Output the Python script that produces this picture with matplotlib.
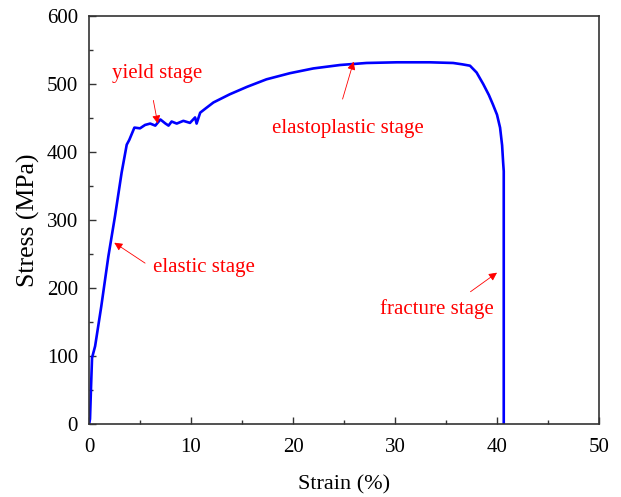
import matplotlib
matplotlib.use("Agg")
import matplotlib.pyplot as plt
from matplotlib.ticker import MultipleLocator

plt.rcParams['font.family'] = ['Liberation Serif', 'DejaVu Serif']

strain = [0.0, 0.1, 0.2, 0.3, 0.6, 1.2, 1.9, 2.55, 3.2, 3.7, 3.95, 4.45,
          4.5, 5.0, 5.5, 6.0, 6.5, 7.0, 7.5, 7.8, 8.1, 8.6, 9.25, 9.9, 10.4, 10.55,
          10.9, 11.5, 12.2, 13.8, 15.5, 17.4, 19.7, 22.0, 24.6, 27.2, 30.2, 33.4,
          35.7, 36.6, 37.35, 38.0, 38.65, 39.2, 39.6, 40.0, 40.3, 40.5, 40.6, 40.66, 40.66]
stress = [0, 8, 55, 98, 115, 173, 247, 306, 370, 411, 418, 436,
          436, 435, 440, 442, 439, 448, 442, 439, 445, 442, 446, 443, 451, 442,
          458, 465, 473, 485, 496, 507, 516, 523, 528, 531, 532, 532,
          531, 529, 527, 517, 500, 484, 470, 455, 436, 410, 385, 372, 0]

labels = ["yield stage", "elastoplastic stage", "elastic stage", "fracture stage"]
label_xy = [(6.67, 516), (25.4, 435), (11.3, 231), (34.15, 169)]
arrow_head = [(6.74, 442), (25.94, 533), (2.48, 267), (40.0, 223)]
arrow_tail = [(6.31, 476), (24.86, 478), (5.5, 237), (37.4, 195)]

fig = plt.figure(figsize=(6.21, 4.97), dpi=100)
ax = fig.add_axes([0.1433, 0.1459, 0.8213, 0.8219])
ax.plot(strain, stress, color='#0000FF', lw=1.9, solid_joinstyle='round')

ax.set_xlim(0, 50)
ax.set_ylim(0, 600)
ax.xaxis.set_major_locator(MultipleLocator(10))
ax.xaxis.set_minor_locator(MultipleLocator(5))
ax.yaxis.set_major_locator(MultipleLocator(100))
ax.yaxis.set_minor_locator(MultipleLocator(50))
ax.tick_params(which='both', direction='in', top=False, right=False, color='#333333', width=1.0)
ax.tick_params(which='major', length=5, labelsize=15)
ax.tick_params(axis='x', which='major', pad=10)
ax.tick_params(axis='y', which='major', pad=8)
ax.tick_params(which='minor', length=3)
for s in ax.spines.values():
    s.set_color('#333333')
    s.set_linewidth(1.2)

ax.set_xlabel('Strain (%)', fontsize=16, labelpad=13)
ax.set_ylabel('Stress (MPa)', fontsize=18.5, labelpad=5)

for lab, xy, hd, tl in zip(labels, label_xy, arrow_head, arrow_tail):
    ax.text(xy[0], xy[1], lab, color='red', fontsize=15, ha='center', va='center')
    ax.annotate('', xy=hd, xytext=tl,
                arrowprops=dict(arrowstyle='-|>', color='red', lw=0.6,
                                mutation_scale=12, shrinkA=0, shrinkB=0))

fig.savefig('out.png', dpi=100)
